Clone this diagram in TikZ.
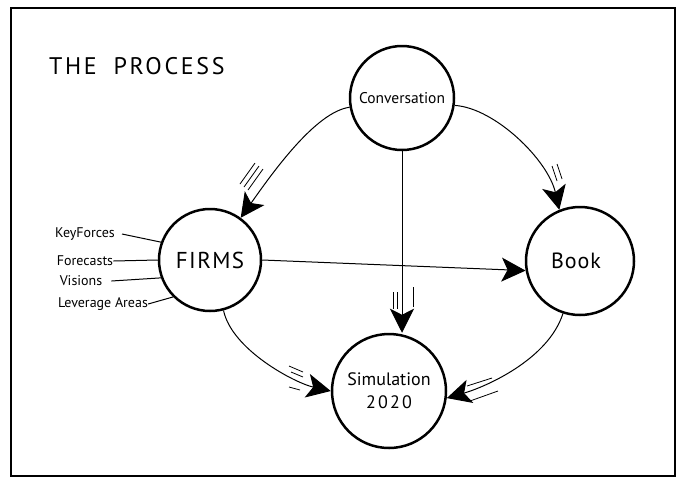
\documentclass[tikz,border=0pt]{standalone}
\usepackage{fontspec}
\setmainfont{PT Sans}
\usetikzlibrary{arrows.meta}
\begin{document}
\begin{tikzpicture}[x=1pt,y=-1pt,
  bubble/.style={draw, circle, line width=2.5pt, inner sep=0pt, align=center},
  link/.style={line width=1pt, -{Stealth[length=24pt,width=24pt,inset=6pt]}},
  speed/.style={line width=0.8pt},
  feed/.style={line width=1pt},
  lbl/.style={font=\fontsize{14}{16}\selectfont, inner sep=0pt}]
\useasboundingbox (0,0) rectangle (679,480);
% frame
\draw[line width=2.8pt] (11,8) rectangle (675,476);
% title
\node[font=\fontsize{24}{26}\selectfont\addfontfeature{LetterSpace=11}, anchor=west, inner sep=0pt] (title) at (49,66) {THE\hspace{0.7em}PROCESS};

% the four stages
\node[bubble, minimum size=104pt, font=\fontsize{15.5}{17}\selectfont] (conv) at (402,98) {Conversation};
\node[bubble, minimum size=102pt, font=\fontsize{23}{25}\selectfont\addfontfeature{LetterSpace=6}] (firms) at (210,260) {FIRMS};
\node[bubble, minimum size=108pt, font=\fontsize{22}{24}\selectfont\addfontfeature{LetterSpace=4}] (book) at (580,261) {Book\hspace*{8pt}};
\node[bubble, minimum size=114pt, font=\fontsize{18}{23}\selectfont] (sim) at (389,391) {Simulation\\{\addfontfeature{LetterSpace=12}2020}};

% inputs to FIRMS
\node[lbl] (kf) at (85,234) {KeyForces};
\node[lbl] (fc) at (85,261) {Forecasts};
\node[lbl] (vi) at (81,281) {Visions};
\node[lbl] (la) at (103,304) {Leverage Areas};
\draw[feed] ([xshift=7pt]kf.east) -- (firms.160);
\draw[feed] (fc.east) -- (firms.west);
\draw[feed] ([xshift=9pt]vi.east) -- (firms.200);
\draw[feed] (la.east) -- (firms.225);

% flows
\draw[link] (conv.190) .. controls (315,112) and (271,175) .. (firms.54);
\draw[link] (conv.-8) .. controls (495,108) and (548,160) .. (book.112);
\draw[link] (conv.south) -- (conv.south |- sim.north);
\draw[link] (firms.east) -- (book.190);
\draw[link] (firms.-75) .. controls (232,350) and (295,383) .. (sim.180);
\draw[link] (book.-108) .. controls (548,360) and (485,387) .. (sim.-7);

% motion strokes
\draw[speed] (240,184) -- (255,163);
\draw[speed] (244,187) -- (259,166);
\draw[speed] (248,190) -- (263,169);
\draw[speed] (552,166) -- (557,181);
\draw[speed] (557,164) -- (562,179);
\draw[speed] (393,292) -- (393,309);
\draw[speed] (397,292) -- (397,309);
\draw[speed] (413,287) -- (413,307);
\draw[speed] (289,366) -- (303,372);
\draw[speed] (291,372) -- (303,377);
\draw[speed] (289,387) -- (300,390);
\draw[speed] (467,386) -- (492,378);
\draw[speed] (470,401) -- (498,391);
\end{tikzpicture}
\end{document}
